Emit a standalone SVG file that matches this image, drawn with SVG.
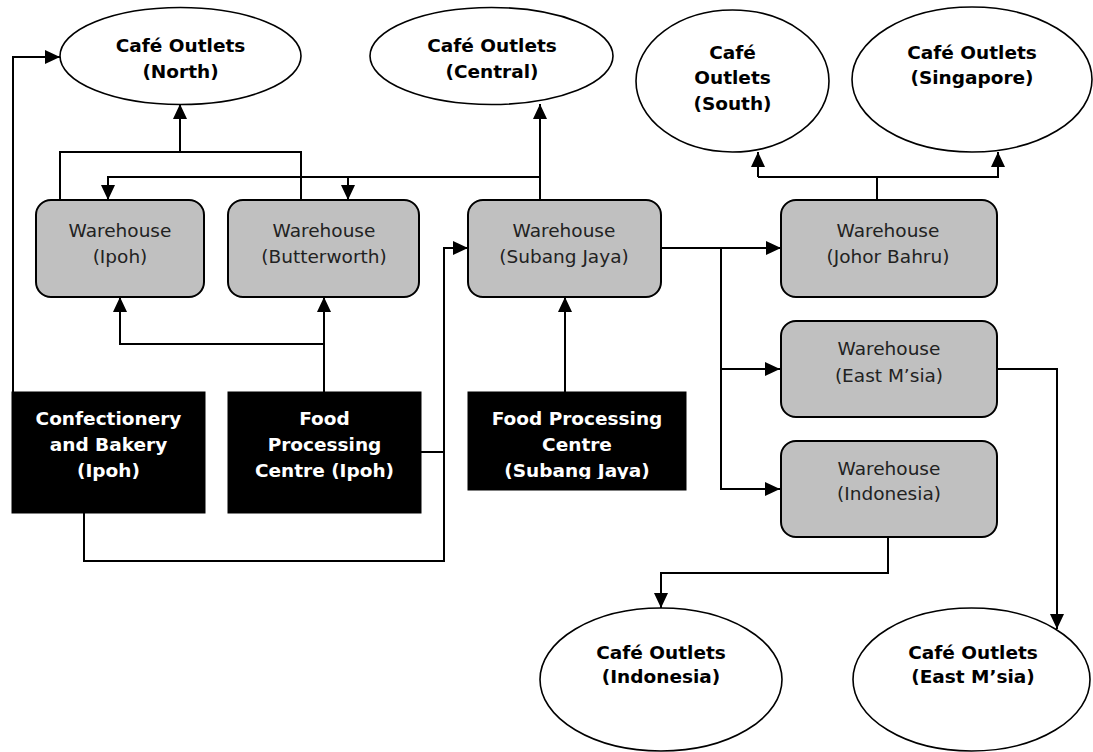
<svg xmlns="http://www.w3.org/2000/svg" width="1093" height="752" viewBox="0 0 1093 752">
<defs>
<style>
.ell{fill:#fff;stroke:#000;stroke-width:1.6}
.wh{fill:#c0c0c0;stroke:#000;stroke-width:2}
.blk{fill:#000;stroke:#000;stroke-width:1}
.bt{font-family:"DejaVu Sans",Verdana,sans-serif;font-weight:bold;font-size:18.5px;fill:#000;text-anchor:middle}
.wt{font-family:"DejaVu Sans",Verdana,sans-serif;font-weight:bold;font-size:18.5px;fill:#fff;text-anchor:middle}
.rt{font-family:"DejaVu Sans",Verdana,sans-serif;font-size:18.5px;fill:#222;text-anchor:middle}
.ln{fill:none;stroke:#000;stroke-width:2}
</style>
<marker id="ah" viewBox="0 0 15 14" refX="15" refY="7" markerWidth="15" markerHeight="14" markerUnits="userSpaceOnUse" orient="auto">
<path d="M0,0 L15,7 L0,14 z" fill="#000"/>
</marker>
<clipPath id="clipFS"><rect x="468" y="392" width="218" height="87"/></clipPath>
</defs>

<g id="connectors">
<path class="ln" d="M13,392 V57 H60" marker-end="url(#ah)"/>
<path class="ln" d="M84,513 V561 H444 V248 H468" marker-end="url(#ah)"/>
<path class="ln" d="M421,452 H444"/>
<path class="ln" d="M324,392 V297" marker-end="url(#ah)"/>
<path class="ln" d="M324,344 H120 V297" marker-end="url(#ah)"/>
<path class="ln" d="M60,200 V152 H301 V200"/>
<path class="ln" d="M180,152 V104" marker-end="url(#ah)"/>
<path class="ln" d="M540,200 V104" marker-end="url(#ah)"/>
<path class="ln" d="M540,177 H108 V200" marker-end="url(#ah)"/>
<path class="ln" d="M348,177 V200" marker-end="url(#ah)"/>
<path class="ln" d="M565,392 V297" marker-end="url(#ah)"/>
<path class="ln" d="M661,248 H781" marker-end="url(#ah)"/>
<path class="ln" d="M721,248 V489 H780" marker-end="url(#ah)"/>
<path class="ln" d="M721,369 H780" marker-end="url(#ah)"/>
<path class="ln" d="M877,200 V177"/>
<path class="ln" d="M758,177 V152" marker-end="url(#ah)"/>
<path class="ln" d="M758,177 H998 V152" marker-end="url(#ah)"/>
<path class="ln" d="M997,369 H1057 V629" marker-end="url(#ah)"/>
<path class="ln" d="M888,537 V573 H661 V608" marker-end="url(#ah)"/>
</g>

<g id="cafe-north">
<ellipse class="ell" cx="180.5" cy="56" rx="120.5" ry="48.5"/>
<text class="bt" x="180.5" y="52">Café Outlets</text>
<text class="bt" x="180.5" y="78">(North)</text>
</g>
<g id="cafe-central">
<ellipse class="ell" cx="491.5" cy="56" rx="121.5" ry="48.5"/>
<text class="bt" x="492" y="52">Café Outlets</text>
<text class="bt" x="492" y="78">(Central)</text>
</g>
<g id="cafe-south">
<ellipse class="ell" cx="732.5" cy="81" rx="96.5" ry="71"/>
<text class="bt" x="732.5" y="59">Café</text>
<text class="bt" x="732.5" y="84">Outlets</text>
<text class="bt" x="732.5" y="110">(South)</text>
</g>
<g id="cafe-singapore">
<ellipse class="ell" cx="972" cy="79.5" rx="120" ry="72.5"/>
<text class="bt" x="972" y="59">Café Outlets</text>
<text class="bt" x="972" y="84">(Singapore)</text>
</g>

<g id="wh-ipoh">
<rect class="wh" x="36" y="200" width="168" height="97" rx="15" ry="15"/>
<text class="rt" x="120" y="237">Warehouse</text>
<text class="rt" x="120" y="263">(Ipoh)</text>
</g>
<g id="wh-butterworth">
<rect class="wh" x="228" y="200" width="191" height="97" rx="15" ry="15"/>
<text class="rt" x="324" y="237">Warehouse</text>
<text class="rt" x="324" y="263">(Butterworth)</text>
</g>
<g id="wh-subang">
<rect class="wh" x="468" y="200" width="193" height="97" rx="15" ry="15"/>
<text class="rt" x="564" y="237">Warehouse</text>
<text class="rt" x="564" y="263">(Subang Jaya)</text>
</g>
<g id="wh-johor">
<rect class="wh" x="781" y="200" width="216" height="97" rx="15" ry="15"/>
<text class="rt" x="888" y="237">Warehouse</text>
<text class="rt" x="888" y="263">(Johor Bahru)</text>
</g>
<g id="wh-eastmsia">
<rect class="wh" x="781" y="321" width="216" height="96" rx="15" ry="15"/>
<text class="rt" x="889" y="355">Warehouse</text>
<text class="rt" x="889" y="382">(East M’sia)</text>
</g>
<g id="wh-indonesia">
<rect class="wh" x="781" y="441" width="216" height="96" rx="15" ry="15"/>
<text class="rt" x="889" y="475">Warehouse</text>
<text class="rt" x="889" y="500">(Indonesia)</text>
</g>

<g id="confectionery-ipoh">
<rect class="blk" x="12" y="392" width="193" height="121"/>
<text class="wt" x="108.5" y="425">Confectionery</text>
<text class="wt" x="108.5" y="451">and Bakery</text>
<text class="wt" x="108.5" y="477">(Ipoh)</text>
</g>
<g id="food-ipoh">
<rect class="blk" x="228" y="392" width="193" height="121"/>
<text class="wt" x="324.5" y="425">Food</text>
<text class="wt" x="324.5" y="451">Processing</text>
<text class="wt" x="324.5" y="477">Centre (Ipoh)</text>
</g>
<g id="food-subang">
<rect class="blk" x="468" y="392" width="218" height="98"/>
<g clip-path="url(#clipFS)">
<text class="wt" x="577" y="425">Food Processing</text>
<text class="wt" x="577" y="451">Centre</text>
<text class="wt" x="577" y="477">(Subang Jaya)</text>
</g>
</g>

<g id="cafe-indonesia">
<ellipse class="ell" cx="661" cy="679.5" rx="121" ry="71.5"/>
<text class="bt" x="661" y="659">Café Outlets</text>
<text class="bt" x="661" y="683">(Indonesia)</text>
</g>
<g id="cafe-eastmsia">
<ellipse class="ell" cx="971.5" cy="679.5" rx="118.5" ry="71.5"/>
<text class="bt" x="973" y="659">Café Outlets</text>
<text class="bt" x="973" y="683">(East M’sia)</text>
</g>
</svg>
